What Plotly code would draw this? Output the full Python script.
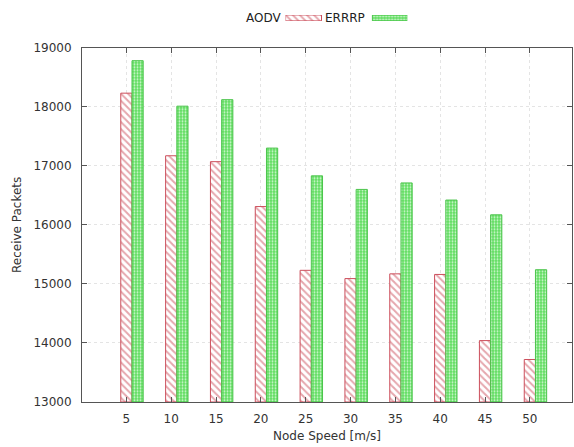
import plotly.graph_objects as go

speeds = ["5", "10", "15", "20", "25", "30", "35", "40", "45", "50"]
aodv = [18230, 17170, 17070, 16310, 15230, 15090, 15170, 15160, 14040, 13720]
errrp = [18780, 18010, 18120, 17300, 16830, 16600, 16710, 16420, 16170, 15240]

idx = list(range(len(speeds)))
BW = 0.25

RED = "#cc4f5c"
GREEN_BG = "#5fdd5f"
GREEN_FG = "#d6f7d6"
GREEN_LINE = "#4cc44c"

aodv_marker = dict(color="white",
                   line=dict(color=RED, width=1),
                   pattern=dict(shape="\\", fgcolor=RED, bgcolor="white",
                                size=5, solidity=0.4, fillmode="overlay"))
errrp_marker = dict(color=GREEN_BG,
                    line=dict(color=GREEN_LINE, width=1),
                    pattern=dict(shape=".", fgcolor=GREEN_FG, bgcolor=GREEN_BG,
                                 size=3, solidity=0.35, fillmode="replace"))

fig = go.Figure()
fig.add_trace(go.Bar(name="AODV", x=idx, y=[v - 13000 for v in aodv], base=13000,
                     width=BW, offset=-BW / 2, marker=aodv_marker, showlegend=False))
fig.add_trace(go.Bar(name="ERRRP", x=idx, y=[v - 13000 for v in errrp], base=13000,
                     width=BW, offset=BW / 2, marker=errrp_marker, showlegend=False))

# legend swatches (gnuplot-style key: text then sample)
fig.add_trace(go.Bar(x=[18], y=[1], width=[36], marker=aodv_marker,
                     xaxis="x2", yaxis="y2", showlegend=False, hoverinfo="skip"))
fig.add_trace(go.Bar(x=[104.5], y=[1], width=[35], marker=errrp_marker,
                     xaxis="x2", yaxis="y2", showlegend=False, hoverinfo="skip"))

L, R, T, B = 82, 1, 5, 45
W, H = 574, 447
ph = H - T - B
pw = W - L - R
def py(p):
    return (H - B - p) / ph
def px(p):
    return (p - L) / pw

axis_common = dict(showline=True, linecolor="#555555", linewidth=1, mirror="ticks",
                   ticks="inside", ticklen=5, tickcolor="#555555",
                   showgrid=True, gridcolor="#e4e4e4", griddash="dot", gridwidth=1,
                   zeroline=False, tickfont=dict(size=12, color="#333333"))

fig.update_layout(
    width=W, height=H,
    margin=dict(l=L, r=R, t=T, b=B),
    plot_bgcolor="white", paper_bgcolor="white",
    font=dict(family="DejaVu Sans", size=12, color="#333333"),
    barmode="overlay",
    xaxis=dict(**axis_common, range=[-0.99, 9.94], tickmode="array",
               tickvals=idx, ticktext=speeds, ticklabelstandoff=6,
               title=dict(text="Node Speed [m/s]", font=dict(size=12), standoff=6)),
    yaxis=dict(**axis_common, range=[13000, 19000], dtick=1000, tickformat="d",
               domain=[0, py(45)], ticklabelstandoff=7,
               title=dict(text="Receive Packets", font=dict(size=12), standoff=9)),
    xaxis2=dict(domain=[px(286), px(408)], range=[0, 122], visible=False,
                anchor="y2", fixedrange=True),
    yaxis2=dict(domain=[py(18), py(12)], range=[0, 1], visible=False,
                anchor="x2", fixedrange=True),
    annotations=[
        dict(text="AODV", x=px(283), y=py(15), xref="paper", yref="paper",
             xanchor="right", yanchor="middle", showarrow=False,
             font=dict(size=12, color="#222222")),
        dict(text="ERRRP", x=px(368), y=py(15), xref="paper", yref="paper",
             xanchor="right", yanchor="middle", showarrow=False,
             font=dict(size=12, color="#222222")),
    ],
)

fig.write_html("out.html")
